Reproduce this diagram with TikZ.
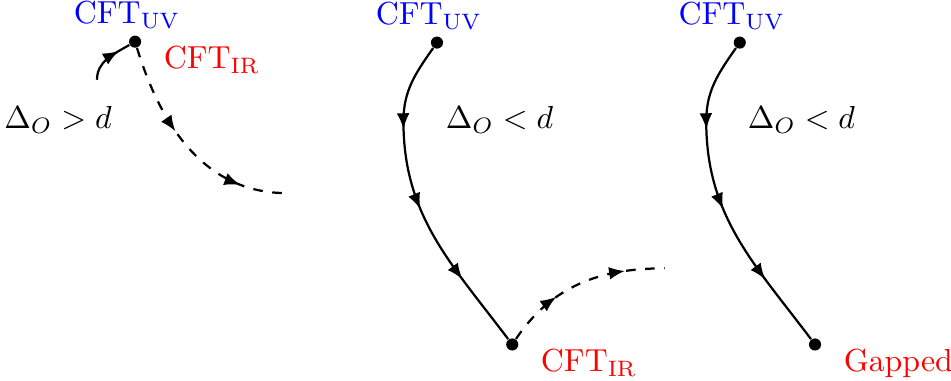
\documentclass[tikz,border=0pt]{standalone}
\usepackage{xcolor}
\usepackage{tikz}
\usepackage{amssymb}
\usetikzlibrary{arrows, arrows.meta, positioning, calc, decorations.markings}

\tikzset{
    fixedpt/.style={circle, fill=black, inner sep=0pt, minimum size=3.8pt},
    uvlabel/.style={text=blue},
    irlabel/.style={text=red},
    flowline/.style={line width=0.7pt},
    flowmarks/.style n args={3}{postaction={decorate},
        decoration={markings, mark=between positions #1 and #2 step #3 with {\arrow{Latex[length=5pt,width=4pt]}}}}
}

\begin{document}
\begin{tikzpicture}
    \useasboundingbox (0,0) rectangle (10.49,4.2);

    % Delta_O > d : the UV fixed point is left by the dashed flow
    \node[fixedpt] (uv1) at (1.49,3.74) {};
    \node[uvlabel, above=-1.5pt of uv1, xshift=-2.5pt] (uv1lab) {CFT$_{\mathrm{UV}}$};
    \node[irlabel, below right=-3.5pt and 4pt of uv1] (ir1lab) {CFT$_{\mathrm{IR}}$};
    \node (rel1) at (0.64,2.88) {$\Delta_O > d$};
    \coordinate (s1) at (1.07,3.32);
    \coordinate (e1) at (3.16,2.07);
    \draw[flowline, flowmarks={0.76}{0.8}{1}] (s1) to[out=90, in=-150] (uv1);
    \draw[flowline, dashed, flowmarks={0.41}{0.8}{0.38}] (uv1) to[out=-73, in=180] (e1);

    % Delta_O < d : flow to a CFT in the IR
    \node[fixedpt] (uv2) at (4.82,3.73) {};
    \node[fixedpt] (ir2) at (5.65,0.40) {};
    \node[uvlabel, above=-1.5pt of uv2, xshift=-2.5pt] (uv2lab) {CFT$_{\mathrm{UV}}$};
    \node[irlabel, below right=-3.5pt and 4pt of ir2] (ir2lab) {CFT$_{\mathrm{IR}}$};
    \node (rel2) at (5.51,2.88) {$\Delta_O < d$};
    \coordinate (bend2) at (4.45,2.86);
    \coordinate (e2) at (7.33,1.24);
    \draw[flowline, flowmarks={0.27}{0.78}{0.25}] (uv2) to[out=-125, in=90] (bend2) to[out=-90, in=127] (ir2);
    \draw[flowline, dashed, flowmarks={0.34}{0.78}{0.43}] (ir2) to[out=56, in=180] (e2);

    % Delta_O < d : flow to a gapped phase
    \node[fixedpt] (uv3) at (8.16,3.73) {};
    \node[fixedpt] (gap3) at (8.99,0.40) {};
    \node[uvlabel, above=-1.5pt of uv3, xshift=-2.5pt] (uv3lab) {CFT$_{\mathrm{UV}}$};
    \node[irlabel, below right=-3.5pt and 4pt of gap3] (gap3lab) {Gapped};
    \node (rel3) at (8.84,2.88) {$\Delta_O < d$};
    \coordinate (bend3) at (7.79,2.86);
    \draw[flowline, flowmarks={0.27}{0.78}{0.25}] (uv3) to[out=-125, in=90] (bend3) to[out=-90, in=127] (gap3);
\end{tikzpicture}
\end{document}
